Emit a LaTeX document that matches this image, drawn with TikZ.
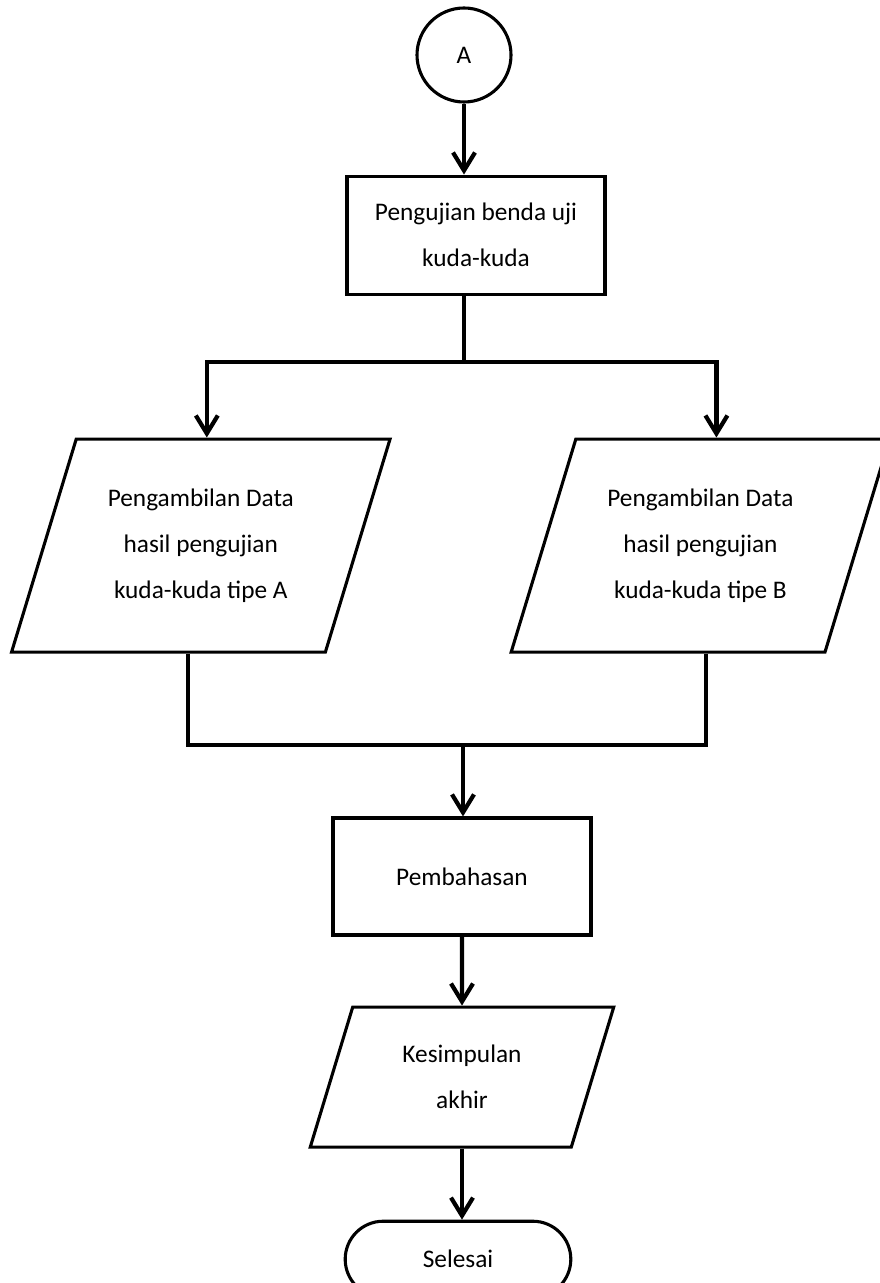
\documentclass[tikz,border=0pt]{standalone}
\usepackage{fontspec}
\setmainfont{Carlito}
\usetikzlibrary{positioning, calc, shapes.geometric, shapes.misc, arrows.meta}

\begin{document}
\begin{tikzpicture}[
    node distance=1.75cm and 1cm,
    every node/.style={
        draw,
        align=center,
        line width=2.2pt,
        font=\fontsize{18}{32.5}\selectfont
    },
    connnode/.style={circle, minimum size=2.35cm, inner sep=0pt},
    procnode/.style={rectangle, minimum width=6.45cm, minimum height=2.95cm},
    datanode/.style={trapezium, trapezium left angle=67.5, trapezium right angle=112.5,
        trapezium stretches=true, minimum width=9.475cm, minimum height=5.325cm},
    resultnode/.style={trapezium, trapezium left angle=71.1, trapezium right angle=108.9,
        trapezium stretches=true, minimum width=7.6cm, minimum height=3.5cm},
    endnode/.style={rounded rectangle, minimum width=5.875cm, minimum height=1.9cm},
    arrow/.style={-{Straight Barb[length=0.45cm, width=0.55cm]}, line width=3pt},
    line/.style={line width=3pt}
]
\useasboundingbox (0,0) rectangle (22,-32.075);
\node[connnode] (circA) at (11.6,-1.375) {A};
\node[procnode] (test) [below=1.775cm of circA, xshift=0.3cm] {Pengujian benda uji\\kuda-kuda};
\node[datanode] (dataA) at (5.02,-13.64) {Pengambilan Data\\hasil pengujian\\kuda-kuda tipe A};
\node[datanode] (dataB) at (17.51,-13.64) {Pengambilan Data\\hasil pengujian\\kuda-kuda tipe B};
\node[procnode, minimum height=2.925cm] (discuss) at (11.55,-21.9125) {Pembahasan};
\node[resultnode] (concl) [below=1.725cm of discuss] {Kesimpulan\\akhir};
\node[endnode] (finish) [below=1.775cm of concl, xshift=-0.1cm] {Selesai};
\coordinate (split) at (circA |- 0,-9.05);
\coordinate (merge) at (11.575,-18.625);
\draw[arrow] (circA) -- (circA |- test.north);
\draw[line] (circA |- test.south) -- (split);
\draw[arrow] (split) -| ([xshift=0.15cm]dataA.north);
\draw[arrow] (split) -| ([xshift=0.4cm]dataB.north);
\draw[line] ([xshift=-0.32cm]dataA.south) |- (merge);
\draw[line] ([xshift=0.14cm]dataB.south) |- (merge);
\draw[arrow] (merge) -- (merge |- discuss.north);
\draw[arrow] (discuss) -- (concl);
\draw[arrow] (concl.south) -- (concl.south |- finish.north);
\end{tikzpicture}
\end{document}
